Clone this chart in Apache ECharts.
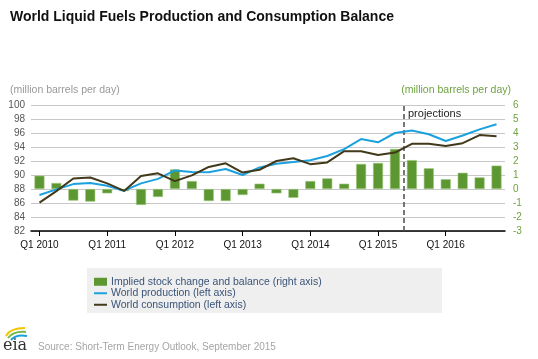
<!DOCTYPE html>
<html><head><meta charset="utf-8">
<script src="https://cdn.jsdelivr.net/npm/echarts@6/dist/echarts.min.js"></script>
<style>html,body{margin:0;padding:0;background:#fff}#c{width:538px;height:359px}</style>
</head><body><div id="c"></div>
<script>
var categories = ["Q1 2010","Q2 2010","Q3 2010","Q4 2010","Q1 2011","Q2 2011","Q3 2011","Q4 2011",
  "Q1 2012","Q2 2012","Q3 2012","Q4 2012","Q1 2013","Q2 2013","Q3 2013","Q4 2013",
  "Q1 2014","Q2 2014","Q3 2014","Q4 2014","Q1 2015","Q2 2015","Q3 2015","Q4 2015",
  "Q1 2016","Q2 2016","Q3 2016","Q4 2016"];
var balance = [0.95,0.43,-0.83,-0.90,-0.31,-0.15,-1.14,-0.57,1.40,0.57,-0.86,-0.86,-0.43,0.38,
  -0.31,-0.63,0.57,0.76,0.38,1.79,1.86,2.86,2.06,1.48,0.70,1.16,0.83,1.67];
var production = [87.14,87.95,88.70,88.85,88.45,87.76,88.80,89.45,90.65,90.42,90.40,90.86,90.00,91.08,
  91.60,91.85,92.12,92.71,93.70,95.14,94.67,96.00,96.35,95.82,94.85,95.64,96.52,97.24];
var consumption = [86.05,87.70,89.50,89.65,88.80,87.72,89.85,90.24,89.12,89.95,91.15,91.67,90.35,90.75,
  92.00,92.40,91.55,91.80,93.40,93.40,92.86,93.20,94.45,94.45,94.15,94.55,95.70,95.55];
var projectionStart = 22; // quarter boundary (Q3 2015)
var leftTicks = {min: 82, max: 100, interval: 2};
var rightTicks = {min: -3, max: 6, interval: 1};

var FONT = '"Liberation Sans", Arial, sans-serif';
var LINE_ICON = 'path://M0,0 L13,0 L13,2 L0,2 Z';
var chart = echarts.init(document.getElementById('c'), null, {renderer: 'canvas'});
chart.setOption({
  animation: false,
  title: {text: 'World Liquid Fuels Production and Consumption Balance', left: 5, top: 5,
    textStyle: {fontFamily: FONT, fontSize: 14, fontWeight: 'bold', color: '#111'}},
  grid: {left: 31, right: 33, top: 105, bottom: 128, containLabel: false},
  legend: {
    orient: 'vertical', left: 94, top: 276, itemGap: 0, itemWidth: 13, itemHeight: 8, padding: 0,
    symbolKeepAspect: true,
    textStyle: {fontFamily: FONT, fontSize: 10.5, color: '#3b5478', lineHeight: 11.5, padding: [0,0,0,-1]},
    data: [
      {name: 'Implied stock change and balance (right axis)', icon: 'rect', itemStyle: {borderWidth: 0, color: '#5d9732'}},
      {name: 'World production (left axis)', icon: LINE_ICON},
      {name: 'World consumption (left axis)', icon: LINE_ICON}
    ]
  },
  xAxis: [{
    type: 'category', data: categories, boundaryGap: true,
    axisLine: {onZero: false, lineStyle: {color: '#000', width: 1.5}},
    axisTick: {show: true, interval: 3, alignWithLabel: true, length: 5, lineStyle: {color: '#000', width: 1}},
    axisLabel: {interval: 3, margin: 9, fontFamily: FONT, fontSize: 10, color: '#111'},
    splitLine: {show: false}
  }, {
    type: 'value', min: 0, max: categories.length, show: false
  }],
  yAxis: [{
    type: 'value', min: leftTicks.min, max: leftTicks.max, interval: leftTicks.interval,
    axisLine: {show: false}, axisTick: {show: false},
    axisLabel: {margin: 6, fontFamily: FONT, fontSize: 10, color: '#555'},
    splitLine: {lineStyle: {color: '#c8c8c8', width: 1}}
  }, {
    type: 'value', min: rightTicks.min, max: rightTicks.max, interval: rightTicks.interval,
    axisLine: {show: false}, axisTick: {show: false},
    axisLabel: {margin: 8, fontFamily: FONT, fontSize: 10, color: '#6ea33f'},
    splitLine: {show: false}
  }],
  series: [{
    name: 'Implied stock change and balance (right axis)', type: 'bar', yAxisIndex: 1,
    data: balance, barWidth: 10,
    itemStyle: {color: '#5d9732', borderColor: '#9dc77c', borderWidth: 0.6}
  }, {
    name: 'World production (left axis)', type: 'line', data: production, yAxisIndex: 0,
    symbol: 'none', showSymbol: false, z: 5,
    lineStyle: {color: '#1aa1de', width: 2}, itemStyle: {color: '#1aa1de'}
  }, {
    name: 'World consumption (left axis)', type: 'line', data: consumption, yAxisIndex: 0,
    symbol: 'none', showSymbol: false, z: 6,
    lineStyle: {color: '#41391a', width: 2}, itemStyle: {color: '#41391a'}
  }, {
    name: 'proj', type: 'line', xAxisIndex: 1, yAxisIndex: 0, data: [], silent: true,
    markLine: {symbol: 'none', silent: true, label: {show: false},
      lineStyle: {color: '#555', width: 1.6, type: [5, 3]},
      data: [{xAxis: projectionStart}]}
  }],
  graphic: [
    {type: 'text', left: 10, top: 85, style: {text: '(million barrels per day)', fontFamily: FONT, fontSize: 10.5, fill: '#999'}},
    {type: 'text', right: 27, top: 85, style: {text: '(million barrels per day)', fontFamily: FONT, fontSize: 10.5, fill: '#6ea33f', textAlign: 'right'}},
    {type: 'text', left: 408, top: 108, style: {text: 'projections', fontFamily: FONT, fontSize: 11, fill: '#222'}},
    {type: 'rect', left: 87, top: 268, shape: {width: 355, height: 45}, style: {fill: '#efefef'}, z: -1},
    {type: 'text', left: 38, top: 342, style: {text: 'Source: Short-Term Energy Outlook, September 2015', fontFamily: FONT, fontSize: 10, fill: '#a5a5a5'}},
    {type: 'text', left: 3, top: 338, style: {text: 'eia', fontFamily: '"DejaVu Serif", serif', fontSize: 16, fill: '#333'}},
    {type: 'bezierCurve', shape: {x1: 6, y1: 336, cpx1: 10, cpy1: 328, x2: 25, y2: 328}, style: {stroke: '#f2c500', lineWidth: 2, fill: null}},
    {type: 'bezierCurve', shape: {x1: 8, y1: 338, cpx1: 13, cpy1: 331, x2: 26, y2: 332}, style: {stroke: '#7ab648', lineWidth: 2, fill: null}},
    {type: 'bezierCurve', shape: {x1: 11, y1: 340, cpx1: 16, cpy1: 334, x2: 27, y2: 336}, style: {stroke: '#1a9fd8', lineWidth: 2, fill: null}}
  ]
});
</script></body></html>
